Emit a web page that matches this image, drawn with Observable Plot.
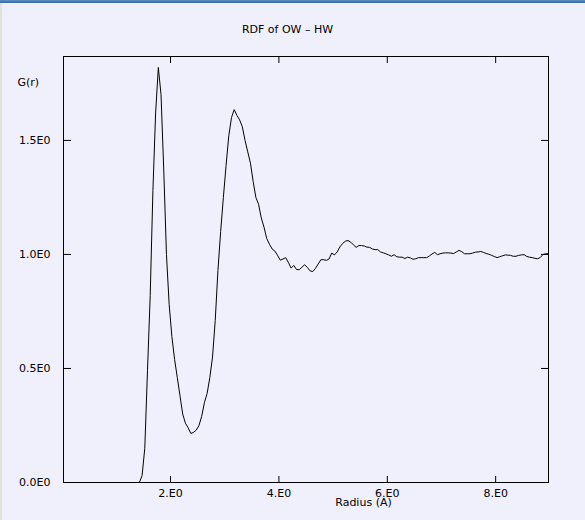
<!DOCTYPE html>
<html><head><meta charset="utf-8">
<script src="https://cdn.jsdelivr.net/npm/d3@7"></script>
<script src="https://cdn.jsdelivr.net/npm/@observablehq/plot@0.6"></script>
<style>
html,body{margin:0;padding:0;background:#f0f0fc;}
#wrap{position:relative;width:585px;height:520px;overflow:hidden;background:#f0f0fc;}
#topbar{position:absolute;left:0;top:0;width:585px;height:3px;background:linear-gradient(#5f8fc8,#3465a0);z-index:2;}
#leftbar{position:absolute;left:0;top:3px;width:2px;height:517px;background:#e2e2da;z-index:2;}
#wrap svg{position:absolute;left:0;top:0;}
</style></head><body><div id="wrap"><div id="topbar"></div><div id="leftbar"></div></div>
<script>
const title = "RDF of OW – HW";
const xLabel = "Radius (A)";
const yLabel = "G(r)";

const xTicks = [2, 4, 6, 8];
const xTickLabels = ["2.E0", "4.E0", "6.E0", "8.E0"];
const yTicks = [0, 0.5, 1.0, 1.5];
const yTickLabels = ["0.0E0", "0.5E0", "1.0E0", "1.5E0"];

// Radius (Å) — bin centres
const radius = [0.025, 1.425,
  1.475, 1.525, 1.575, 1.625, 1.675, 1.725, 1.775, 1.825, 1.875, 1.925, 1.975,
  2.025, 2.075, 2.125, 2.175, 2.225, 2.275, 2.325, 2.375, 2.425, 2.475,
  2.525, 2.575, 2.625, 2.675, 2.725, 2.775, 2.825, 2.875, 2.925, 2.975,
  3.025, 3.075, 3.125, 3.175, 3.225, 3.275, 3.325, 3.375, 3.425, 3.475,
  3.525, 3.575, 3.625, 3.675, 3.725, 3.775, 3.825, 3.875, 3.925, 3.975,
  4.025, 4.075, 4.125, 4.175, 4.225, 4.275, 4.325, 4.375, 4.425, 4.475,
  4.525, 4.575, 4.625, 4.675, 4.725, 4.775, 4.825, 4.875, 4.925, 4.975,
  5.025, 5.075, 5.125, 5.175, 5.225, 5.275, 5.325, 5.375, 5.425, 5.475,
  5.525, 5.575, 5.625, 5.675, 5.725, 5.775, 5.825, 5.875, 5.925, 5.975,
  6.025, 6.075, 6.125, 6.175, 6.225, 6.275, 6.325, 6.375, 6.425, 6.475,
  6.525, 6.575, 6.625, 6.675, 6.725, 6.775, 6.825, 6.875, 6.925, 6.975,
  7.025, 7.075, 7.125, 7.175, 7.225, 7.275, 7.325, 7.375, 7.425, 7.475,
  7.525, 7.575, 7.625, 7.675, 7.725, 7.775, 7.825, 7.875, 7.925, 7.975,
  8.025, 8.075, 8.125, 8.175, 8.225, 8.275, 8.325, 8.375, 8.425, 8.475,
  8.525, 8.575, 8.625, 8.675, 8.725, 8.775, 8.825, 8.875, 8.925, 8.975];

// G(r) values
const gr = [0, 0,
  0.03, 0.15, 0.49, 0.82, 1.28, 1.62, 1.82, 1.70, 1.37, 1.00, 0.78,
  0.64, 0.54, 0.46, 0.38, 0.30, 0.26, 0.24, 0.215, 0.22, 0.23,
  0.25, 0.29, 0.35, 0.39, 0.46, 0.55, 0.71, 0.93, 1.10, 1.25,
  1.39, 1.52, 1.60, 1.635, 1.61, 1.59, 1.56, 1.50, 1.45, 1.40,
  1.32, 1.25, 1.22, 1.16, 1.12, 1.07, 1.045, 1.024, 1.015, 0.996,
  0.975, 0.980, 0.986, 0.965, 0.940, 0.952, 0.934, 0.933, 0.944, 0.955,
  0.943, 0.928, 0.925, 0.939, 0.958, 0.977, 0.977, 0.974, 0.980, 1.006,
  0.998, 1.011, 1.033, 1.048, 1.058, 1.061, 1.054, 1.042, 1.031, 1.039,
  1.039, 1.037, 1.032, 1.031, 1.024, 1.021, 1.021, 1.011, 1.007, 1.003,
  0.998, 0.992, 0.999, 0.990, 0.988, 0.988, 0.982, 0.988, 0.985, 0.979,
  0.981, 0.986, 0.986, 0.986, 0.986, 0.993, 1.002, 1.009, 0.999, 1.003,
  1.006, 1.007, 1.007, 1.006, 1.004, 1.011, 1.018, 1.012, 1.003, 1.003,
  1.003, 1.006, 1.010, 1.011, 1.013, 1.009, 1.004, 1.001, 0.996, 0.991,
  0.986, 0.990, 0.994, 0.998, 0.997, 0.996, 0.992, 0.992, 0.996, 0.998,
  0.999, 0.991, 0.988, 0.986, 0.983, 0.981, 0.987, 1.000, 1.003, 1.003];

const W = 585, H = 520;
const mL = 63, mR = 37, mT = 56, mB = 38;
const fw = W - mL - mR, fh = H - mT - mB;
const xFmt = new Map(xTicks.map((t, i) => [t, xTickLabels[i]]));
const yFmt = new Map(yTicks.map((t, i) => [t, yTickLabels[i]]));
const font = "'DejaVu Sans', sans-serif";
const fs = 11;

const chart = Plot.plot({
  width: W, height: H,
  marginLeft: mL, marginRight: mR, marginTop: mT, marginBottom: mB,
  style: {background: "transparent", fontFamily: font, fontSize: fs + "px", color: "black", overflow: "visible"},
  x: {domain: [radius[0], radius[radius.length - 1]]},
  y: {domain: [0, 1.868]},
  marks: [
    // labels
    Plot.axisY(yTicks, {anchor: "left", tickSize: 0, tickPadding: 13, tickFormat: d => yFmt.get(d), label: null, fill: "black"}),
    Plot.axisX(xTicks, {anchor: "bottom", tickSize: 0, tickPadding: 7, tickFormat: d => xFmt.get(d), label: null, fill: "black"}),
    // inward ticks on all four sides
    Plot.axisY(yTicks, {anchor: "right", tickSize: 7, dx: -fw, tickFormat: () => "", label: null, stroke: "black"}),
    Plot.axisY(yTicks, {anchor: "left", tickSize: 7, dx: fw, tickFormat: () => "", label: null, stroke: "black"}),
    Plot.axisX(xTicks, {anchor: "top", tickSize: 7, dy: fh, tickFormat: () => "", label: null, stroke: "black"}),
    Plot.axisX(xTicks, {anchor: "bottom", tickSize: 7, dy: -fh, tickFormat: () => "", label: null, stroke: "black"}),
    Plot.line(gr, {x: radius, y: gr, stroke: "black", strokeWidth: 1}),
    Plot.frame({stroke: "black", strokeWidth: 1}),
    Plot.text([title], {text: d => d, frameAnchor: "top-left", dx: 287 - mL, dy: 25 - mT, textAnchor: "middle", fontSize: fs, fill: "black"}),
    Plot.text([yLabel], {text: d => d, frameAnchor: "top-left", dx: 17 - mL, dy: 78 - mT, textAnchor: "start", fontSize: fs, fill: "black"}),
    Plot.text([xLabel], {text: d => d, frameAnchor: "bottom-left", dx: 363 - mL, dy: 505 - (H - mB), textAnchor: "middle", fontSize: fs, fill: "black"})
  ]
});
document.getElementById("wrap").appendChild(chart);
</script>
</body></html>
